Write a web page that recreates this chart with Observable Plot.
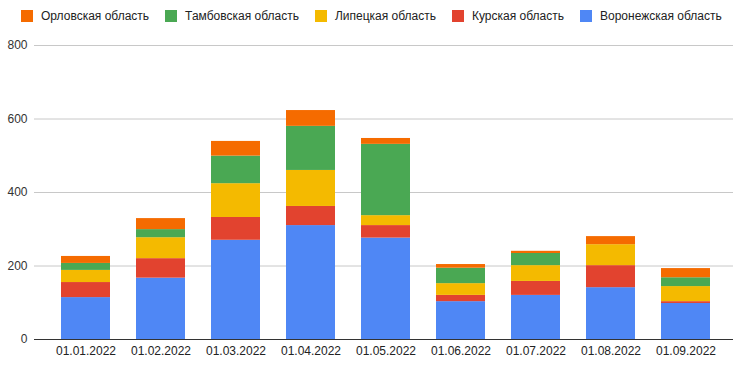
<!DOCTYPE html>
<html>
<head>
<meta charset="utf-8">
<script src="https://cdn.jsdelivr.net/npm/d3@7"></script>
<script src="https://cdn.jsdelivr.net/npm/@observablehq/plot@0.6"></script>
<style>
  html, body { margin: 0; padding: 0; background: #fff; }
  body { width: 733px; height: 369px; overflow: hidden; font-family: Arial, "Liberation Sans", sans-serif; }
  #legend { height: 32px; display: flex; align-items: center; padding-left: 21px; box-sizing: border-box; font-size: 12px; color: #222; }
  .item { display: flex; align-items: center; margin-right: 16px; white-space: nowrap; }
  .sw { width: 12px; height: 12px; margin-right: 8px; }
</style>
</head>
<body>
<div id="legend"></div>
<div id="chart"></div>
<script>
const dates = ["01.01.2022","01.02.2022","01.03.2022","01.04.2022","01.05.2022","01.06.2022","01.07.2022","01.08.2022","01.09.2022"];
const seriesNames = ["Воронежская область","Курская область","Липецкая область","Тамбовская область","Орловская область"];
const seriesColors = ["#4f87f5","#e2432f","#f4ba00","#4aa853","#f56b00"];
const voronezh = [114,167,270,310,276,103,120,141,98];
const kursk    = [41,53,62,52,34,17,38,60,5];
const lipetsk  = [33,57,92,98,27,32,43,57,41];
const tambov   = [19,22,75,120,194,42,33,0,24];
const orel     = [19,30,40,43,16,10,6,22,25];
const yTicks = [0,200,400,600,800];

const seriesValues = [voronezh, kursk, lipetsk, tambov, orel];
const table = [];
seriesNames.forEach((name, si) => {
  dates.forEach((d, i) => table.push({date: d, series: name, value: seriesValues[si][i]}));
});

// legend (reverse order: top of stack first)
const legend = document.getElementById("legend");
for (let i = seriesNames.length - 1; i >= 0; i--) {
  const it = document.createElement("div");
  it.className = "item";
  const sw = document.createElement("div");
  sw.className = "sw";
  sw.style.background = seriesColors[i];
  const tx = document.createElement("span");
  tx.textContent = seriesNames[i];
  it.appendChild(sw); it.appendChild(tx);
  legend.appendChild(it);
}

const chart = Plot.plot({
  width: 733,
  height: 337,
  marginTop: 13,
  marginBottom: 30,
  marginLeft: 34,
  marginRight: 0,
  style: {fontFamily: 'Arial, "Liberation Sans", sans-serif', fontSize: "12px", background: "#fff"},
  x: {type: "band", domain: dates, padding: 0.347, insetRight: -3, label: null},
  y: {domain: [0, 800], label: null},
  color: {domain: seriesNames, range: seriesColors},
  marks: [
    Plot.gridY(yTicks, {stroke: "#c8c8c8", strokeOpacity: 1, strokeWidth: 1}),
    Plot.barY(table, {x: "date", y: "value", fill: "series", order: seriesNames}),
    Plot.ruleY([0], {stroke: "#333", strokeWidth: 1}),
    Plot.axisY(yTicks, {tickSize: 0, tickPadding: 7, fill: "#333", label: null}),
    Plot.axisX({tickSize: 0, tickPadding: 7, fill: "#222", label: null})
  ]
});
document.getElementById("chart").appendChild(chart);
</script>
</body>
</html>
